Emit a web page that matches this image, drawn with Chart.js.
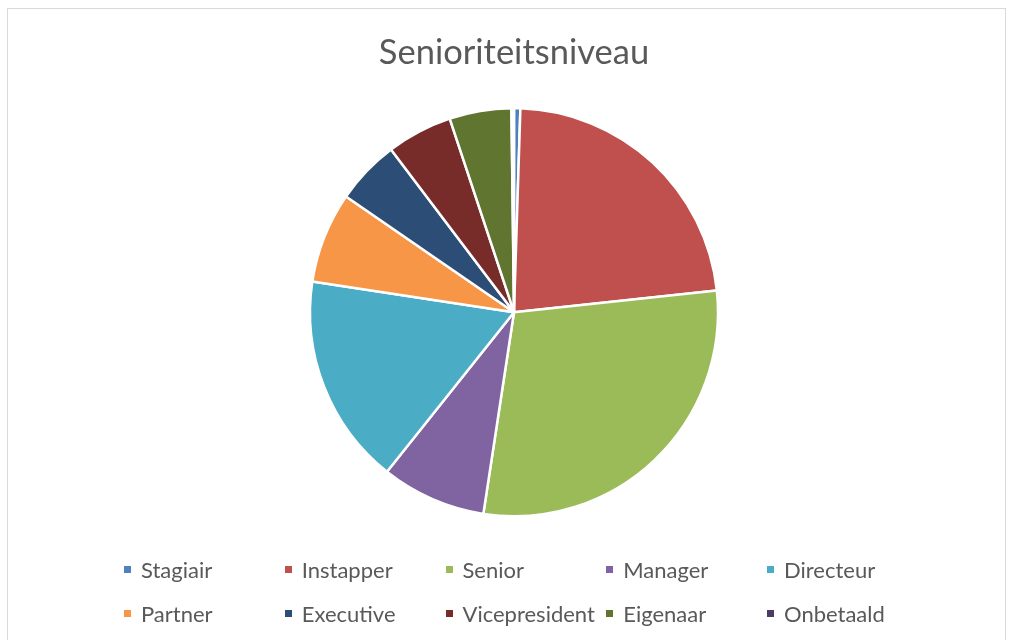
<!DOCTYPE html>
<html>
<head>
<meta charset="utf-8">
<script src="https://cdn.jsdelivr.net/npm/chart.js@4"></script>
<style>
  body { margin: 0; background: #fff; font-family: Lato, "Open Sans", sans-serif; }
  #frame { position: absolute; left: 7px; top: 8px; width: 999px; height: 660px; border: 1px solid #d9d9d9; box-sizing: border-box; }
  #wrap { position: absolute; left: 0; top: 0; width: 1010px; height: 640px; }
  #legend { position: absolute; left: 124px; top: 554px; display: grid; grid-template-columns: repeat(5, 160.75px); row-gap: 14px; }
  .item { display: flex; align-items: center; height: 30px; font-size: 22px; color: #595959; white-space: nowrap; }
  .box { width: 7px; height: 7px; margin-right: 10px; flex: none; }
</style>
</head>
<body>
<div id="frame"></div>
<div id="wrap"><canvas id="pieChart"></canvas></div>
<div id="legend"></div>
<script>
var labels = ['Stagiair', 'Instapper', 'Senior', 'Manager', 'Directeur', 'Partner', 'Executive', 'Vicepresident', 'Eigenaar', 'Onbetaald'];
var values = [0.5, 22.8, 29.1, 8.3, 16.7, 7.2, 5.1, 5.2, 4.9, 0.2];
var colors = ['#4F81BD', '#C0504D', '#9BBB59', '#8064A2', '#4BACC6', '#F79646', '#2C4D75', '#772C2A', '#5F7530', '#4D3B62'];

var ctx = document.getElementById('pieChart').getContext('2d');
var pieChart = new Chart(ctx, {
    type: 'pie',
    data: {
        labels: labels,
        datasets: [{
            data: values,
            backgroundColor: colors,
            borderColor: '#ffffff',
            borderWidth: 2.5,
            radius: 204
        }]
    },
    options: {
        responsive: true,
        maintainAspectRatio: false,
        animation: false,
        layout: { padding: { top: 0, bottom: 89, left: 18, right: 0 } },
        plugins: {
            legend: { display: false },
            tooltip: { enabled: false },
            title: {
                display: true,
                text: 'Senioriteitsniveau',
                color: '#595959',
                font: { family: 'Lato', size: 34.5, weight: 'normal', lineHeight: 1.2 },
                padding: { top: 32, bottom: 0 }
            }
        }
    }
});

// legend in five columns, like the original
var legend = document.getElementById('legend');
pieChart.options.plugins.legend.labels.generateLabels(pieChart).forEach(function(item) {
    var div = document.createElement('div');
    div.className = 'item';
    var box = document.createElement('span');
    box.className = 'box';
    box.style.background = item.fillStyle;
    div.appendChild(box);
    div.appendChild(document.createTextNode(item.text));
    legend.appendChild(div);
});
</script>
</body>
</html>
